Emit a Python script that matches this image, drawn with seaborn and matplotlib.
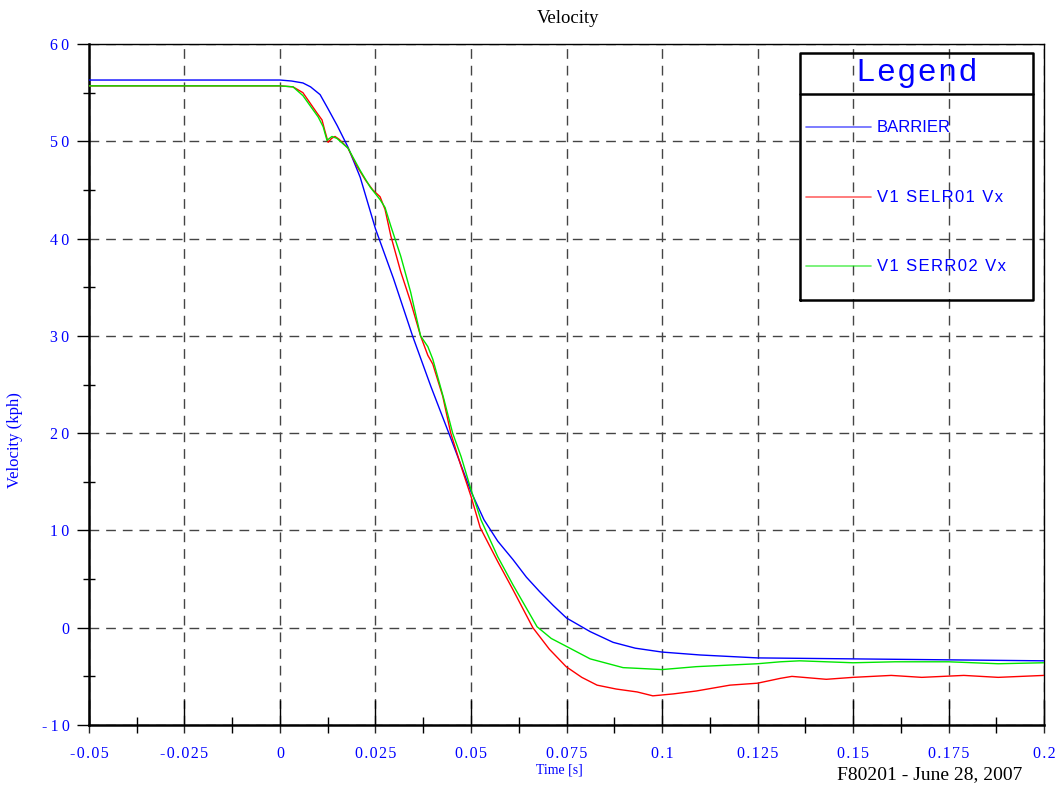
import numpy as np
import pandas as pd
import matplotlib
matplotlib.use("Agg")
import matplotlib.pyplot as plt
import seaborn as sns
from matplotlib.ticker import FixedLocator, MultipleLocator

# Data
t_barrier = [-0.05, 0.0, 0.003, 0.006, 0.008, 0.0105, 0.0125, 0.015, 0.0178, 0.021,
             0.025, 0.0297, 0.0347, 0.0395, 0.0442, 0.05, 0.0534, 0.057, 0.061, 0.0645,
             0.068, 0.0715, 0.075, 0.0812, 0.0872, 0.093, 0.1, 0.11, 0.125, 0.15,
             0.175, 0.2]
v_barrier = [56.3, 56.3, 56.2, 56.0, 55.6, 54.8, 53.4, 51.6, 49.4, 46.3,
             41.0, 35.9, 30.0, 24.8, 20.0, 14.0, 11.1, 8.9, 7.0, 5.2,
             3.7, 2.3, 1.0, -0.4, -1.5, -2.1, -2.5, -2.8, -3.1, -3.2,
             -3.3, -3.4]

t_selr01 = [-0.05, 0.0, 0.0034, 0.006, 0.0097, 0.011, 0.0118, 0.0126, 0.0135, 0.0144,
            0.0155, 0.0178, 0.0202, 0.0224, 0.0243, 0.0262, 0.0275, 0.029, 0.0316, 0.0342,
            0.0368, 0.0387, 0.040, 0.0426, 0.0447, 0.0474, 0.05, 0.0524, 0.057, 0.061,
            0.0662, 0.0705, 0.0749, 0.079, 0.083, 0.088, 0.0935, 0.0976, 0.103, 0.109,
            0.1178, 0.125, 0.131, 0.134, 0.143, 0.15, 0.16, 0.168, 0.179, 0.188, 0.2]
v_selr01 = [55.7, 55.7, 55.6, 55.0, 52.9, 52.2, 51.0, 49.9, 50.3, 50.5,
            50.2, 49.3, 47.4, 46.0, 45.0, 44.3, 43.0, 40.3, 36.6, 33.5,
            30.0, 28.0, 27.1, 23.8, 20.0, 16.6, 13.5, 10.3, 6.8, 3.9,
            0.0, -2.2, -4.0, -5.1, -5.9, -6.3, -6.6, -7.0, -6.8, -6.5,
            -5.9, -5.7, -5.2, -5.0, -5.3, -5.1, -4.9, -5.1, -4.9, -5.1, -4.9]

t_serr02 = [-0.05, 0.0, 0.0034, 0.006, 0.01, 0.0113, 0.0123, 0.0136, 0.0149, 0.0178,
            0.021, 0.0236, 0.025, 0.0262, 0.0275, 0.029, 0.0316, 0.0342, 0.0368, 0.0387,
            0.040, 0.0429, 0.0452, 0.0474, 0.05, 0.0526, 0.057, 0.061, 0.0673, 0.071,
            0.0749, 0.0812, 0.0898, 0.095, 0.1, 0.109, 0.125, 0.131, 0.136, 0.15,
            0.161, 0.175, 0.188, 0.2]
v_serr02 = [55.7, 55.7, 55.6, 54.7, 52.5, 51.5, 50.1, 50.5, 50.3, 49.3,
            47.0, 45.3, 44.6, 44.0, 43.2, 41.3, 38.2, 34.5, 30.0, 28.9,
            27.6, 23.5, 20.0, 17.6, 14.2, 11.1, 7.3, 4.4, 0.1, -1.1,
            -1.9, -3.2, -4.1, -4.2, -4.3, -4.0, -3.7, -3.5, -3.4, -3.6,
            -3.5, -3.5, -3.7, -3.6]

x_ticks = [-0.05, -0.025, 0, 0.025, 0.05, 0.075, 0.1, 0.125, 0.15, 0.175, 0.2]
x_labels = ["-0.05", "-0.025", "0", "0.025", "0.05", "0.075", "0.1", "0.125", "0.15", "0.175", "0.2"]
y_ticks = [-10, 0, 10, 20, 30, 40, 50, 60]
y_labels = ["-10", "0", "10", "20", "30", "40", "50", "60"]

series = [("BARRIER", t_barrier, v_barrier, "#0000ff"),
          ("V1 SELR01 Vx", t_selr01, v_selr01, "#ff0000"),
          ("V1 SERR02 Vx", t_serr02, v_serr02, "#00e600")]

sns.set_style("white")
serif = ["Liberation Serif", "DejaVu Serif"]
sans = ["Liberation Sans", "DejaVu Sans"]


def spaced(s, sep="\u200a"):
    # the original tool draws its labels with loose letter spacing
    return sep.join(s)


fig = plt.figure(figsize=(10.58, 7.85), dpi=100)
ax = fig.add_axes([0.0841, 0.0764, 0.9027, 0.8675])

for name, t, v, col in series:
    df = pd.DataFrame({"Time": t, "Velocity": v})
    sns.lineplot(data=df, x="Time", y="Velocity", ax=ax, color=col,
                 linewidth=1.0, estimator=None, sort=False, zorder=3)

ax.set_xlim(-0.05, 0.2)
ax.set_ylim(-10, 60)
ax.set_xlabel("")
ax.set_ylabel("")

ax.xaxis.set_major_locator(FixedLocator(x_ticks))
ax.set_xticklabels([spaced(s) for s in x_labels])
ax.xaxis.set_minor_locator(MultipleLocator(0.0125))
ax.yaxis.set_major_locator(FixedLocator(y_ticks))
ax.set_yticklabels([spaced(s, "\u2009") for s in y_labels])
ax.yaxis.set_minor_locator(MultipleLocator(5))

ax.tick_params(axis="x", which="major", direction="in", length=18, width=1,
               bottom=True, top=False, colors="black", labelcolor="#0000ff",
               pad=15, labelsize=11.5)
ax.tick_params(axis="x", which="minor", direction="inout", length=11, width=1,
               bottom=True, top=False, colors="black")
ax.tick_params(axis="y", which="major", direction="out", length=9, width=1,
               left=True, right=False, colors="black", labelcolor="#0000ff",
               pad=5, labelsize=11.5)
ax.tick_params(axis="y", which="minor", direction="inout", length=9, width=1,
               left=True, right=False, colors="black")
for lab in ax.get_xticklabels() + ax.get_yticklabels():
    lab.set_fontfamily(serif)

# short outward part of the major x ticks
sec = ax.secondary_xaxis("bottom")
sec.set_xticks(x_ticks)
sec.tick_params(direction="out", length=6, width=1, bottom=True, labelbottom=False)
sec.spines["bottom"].set_visible(False)

ax.grid(True, which="major", color="#444444", linestyle=(0, (7, 5)), linewidth=1.0, zorder=1)

for side in ["left", "bottom"]:
    ax.spines[side].set_linewidth(1.8)
for side in ["top", "right"]:
    ax.spines[side].set_linewidth(1.0)
for s in ax.spines.values():
    s.set_color("black")

# Legend box drawn in axes coordinates
bx0, bx1, by0, by1, bdiv = 0.7445, 0.9885, 0.624, 0.9868, 0.9266
ax.plot([bx0, bx1, bx1, bx0, bx0], [by0, by0, by1, by1, by0], transform=ax.transAxes,
        color="black", linewidth=1.8, zorder=5, clip_on=False)
ax.plot([bx0, bx1], [bdiv, bdiv], transform=ax.transAxes, color="black",
        linewidth=1.8, zorder=5)
ax.text((bx0 + bx1) / 2, 0.958, spaced("Legend"), transform=ax.transAxes, ha="center",
        va="center", color="#0000ff", fontsize=23, family=sans, zorder=6)
rows = [0.878, 0.775, 0.674]
for (name, t, v, col), ry in zip(series, rows):
    ax.plot([0.751, 0.819], [ry, ry], transform=ax.transAxes, color=col,
            alpha=0.6, linewidth=1.2, zorder=6)
    ax.text(0.825, ry, spaced(name, "\u200a") if name != "BARRIER" else name,
            transform=ax.transAxes, ha="left", va="center",
            color="#0000ff", fontsize=12, family=sans, zorder=6)

fig.text(0.5365, 0.976, "Velocity", ha="center", va="center", fontsize=13.5,
         family=serif, color="black")
fig.text(0.529, 0.0195, "Time [s]", ha="center", va="center", fontsize=10,
         family=serif, color="#0000ff")
fig.text(0.0142, 0.4395, "Velocity (kph)", ha="center", va="center", rotation=90,
         fontsize=12, family=serif, color="#0000ff")
fig.text(0.879, 0.0127, "F80201 - June 28, 2007", ha="center", va="center",
         fontsize=14, family=serif, color="black")

fig.savefig("out.png", dpi=100)
